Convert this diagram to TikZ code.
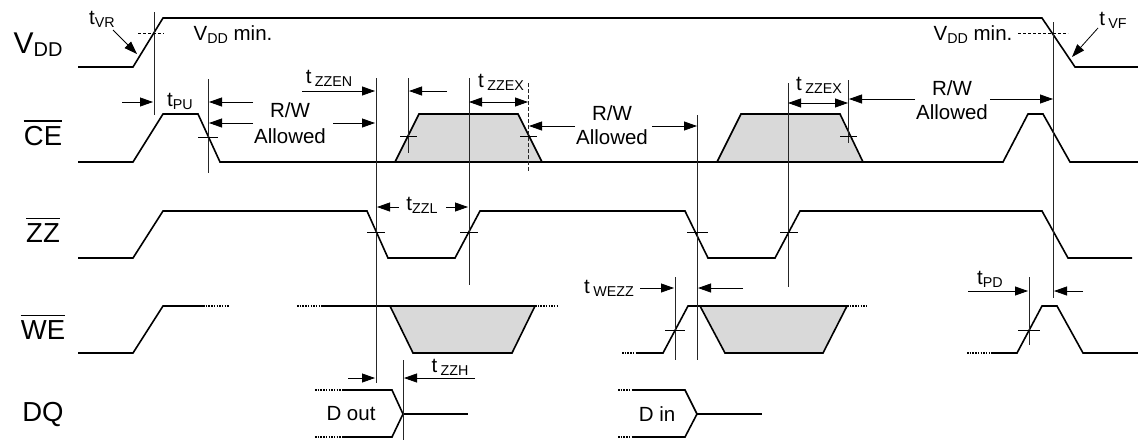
\documentclass[tikz,border=0pt]{standalone}
\usepackage{fontspec}
\setmainfont{Liberation Sans}
\usetikzlibrary{arrows.meta}
\newcommand\tsb[1]{\raisebox{-3pt}{\fontsize{14.3}{14}\selectfont #1}}
\tikzset{
  sig/.style={line width=1.6pt, line join=miter},
  dotx/.style={line width=1.6pt, dash pattern=on 1.5pt off 1.2pt},
  vline/.style={line width=0.8pt, black!85},
  tick/.style={line width=0.8pt},
  vdash/.style={line width=0.8pt, dash pattern=on 3pt off 2pt},
  arr/.style={line width=0.8pt, -{Triangle[length=13pt,width=9pt]}},
  darr/.style={line width=0.8pt, {Triangle[length=13pt,width=9pt]}-{Triangle[length=13pt,width=9pt]}},
  txt/.style={font=\fontsize{20.5}{22}\selectfont, inner sep=0pt},
  siglab/.style={font=\fontsize{27.5}{30}\selectfont, inner sep=0pt},
  ovline/.style={line width=1.4pt},
  shadebox/.style={fill=black!15, line width=1.6pt, line join=miter},
}
\begin{document}
\begin{tikzpicture}[x=1pt,y=-1pt]
\useasboundingbox (0,0) rectangle (1138,440);

% signal labels
\node[inner sep=0pt] (lvdd) at (38,45) {\fontsize{30}{34}\selectfont V\raisebox{-3pt}{\fontsize{20}{21}\selectfont DD}};
\node[siglab] (lce) at (43,136) {CE};
\node[siglab] (lzz) at (43,233) {ZZ};
\node[siglab] (lwe) at (43,330) {WE};
\node[siglab] (ldq) at (43,414) {DQ};
\draw[ovline] ([yshift=5pt]lce.north west) -- ([yshift=5pt]lce.north east);
\draw[ovline] ([yshift=5pt]lzz.north west) -- ([yshift=5pt]lzz.north east);
\draw[ovline] ([yshift=5pt]lwe.north west) -- ([yshift=5pt]lwe.north east);

% gray regions
\draw[shadebox] (395,162) -- (419,114) -- (518,114) -- (542,162) -- cycle;
\draw[shadebox] (717,162) -- (741,114) -- (840,114) -- (863,162) -- cycle;
\draw[shadebox] (390,306) -- (413,353) -- (512,353) -- (535,306) -- cycle;
\draw[shadebox] (700,306) -- (725,353) -- (823,353) -- (847,306) -- cycle;

% VDD
\draw[sig] (78,67) -- (133,67) -- (163,18) -- (1042,18) -- (1075,67) -- (1138,67);
% CE
\draw[sig] (78,162) -- (133,162) -- (163,114) -- (198,114) -- (220,162) -- (1003,162)
  -- (1028,114) -- (1043,114) -- (1070,162) -- (1138,162);
% ZZ
\draw[sig] (78,258) -- (133,258) -- (163,211) -- (367,211) -- (388,258) -- (455,258)
  -- (480,211) -- (685,211) -- (708,258) -- (775,258) -- (800,211) -- (1042,211)
  -- (1068,258) -- (1132,258);
% WE
\draw[sig] (78,353) -- (133,353) -- (163,306) -- (203,306);
\draw[dotx] (203,306) -- (230,306);
\draw[dotx] (297,306) -- (323,306);
\draw[sig] (323,306) -- (535,306);
\draw[dotx] (535,306) -- (557,306);
\draw[dotx] (622,353) -- (637,353);
\draw[sig] (637,353) -- (663,353) -- (688,306) -- (847,306);
\draw[dotx] (847,306) -- (868,306);
\draw[dotx] (967,353) -- (993,353);
\draw[sig] (993,353) -- (1017,353) -- (1042,306) -- (1057,306) -- (1083,353) -- (1138,353);
% DQ
\draw[dotx] (315,390) -- (342,390);
\draw[dotx] (315,437) -- (342,437);
\draw[sig] (342,390) -- (392,390) -- (403,414) -- (392,437) -- (342,437);
\draw[sig] (403,414) -- (468,414);
\draw[dotx] (618,390) -- (633,390);
\draw[dotx] (618,437) -- (633,437);
\draw[sig] (633,390) -- (685,390) -- (697,414) -- (685,437) -- (633,437);
\draw[sig] (697,414) -- (762,414);
\node[txt] (dout) at (351,414) {D out};
\node[txt] (din) at (657,414) {D in};

% vertical reference lines
\draw[vline] (154,12) -- (154,115);
\draw[vline] (208,79) -- (208,173);
\draw[vline] (376,78) -- (376,383);
\draw[vline] (408,78) -- (408,153);
\draw[vline] (469,78) -- (469,285);
\draw[vline, dash pattern=on 4pt off 2pt] (528,83) -- (528,172);
\draw[vline] (697,115) -- (697,360);
\draw[vline] (788,83) -- (788,287);
\draw[vline] (848,80) -- (848,143);
\draw[vline] (1053,22) -- (1053,298);
\draw[vline] (403,360) -- (403,440);
\draw[vline] (675,277) -- (675,360);
\draw[vline] (1029,277) -- (1029,345);

% ticks
\draw[vdash] (138,33) -- (164,33);
\draw[vdash] (1018,33) -- (1068,33);
\draw[tick] (198,137) -- (218,137);
\draw[tick] (400,136) -- (417,136);
\draw[tick] (520,136) -- (537,136);
\draw[tick] (840,136) -- (857,136);
\draw[tick] (367,232) -- (385,232);
\draw[tick] (460,232) -- (478,232);
\draw[tick] (687,232) -- (708,232);
\draw[tick] (780,232) -- (798,232);
\draw[tick] (665,330) -- (685,330);
\draw[tick] (1018,330) -- (1040,330);

% VDD annotations
\node[txt] (tvr) at (102,19) {t\tsb{VR}};
\draw[arr] (113,30) -- (137,54);
\node[txt] (vmin1) at (233,35) {V\tsb{DD} min.};
\node[txt] (vmin2) at (973,35) {V\tsb{DD} min.};
\node[txt] (tvf) at (1113,20) {t\,\tsb{VF}};
\draw[arr] (1098,28) -- (1072,57);

% tPU and R/W allowed (1)
\node[txt] (tpu) at (180,101) {t\tsb{PU}};
\draw[arr] (122,102) -- (153,102);
\draw[arr] (253,102) -- (209,102);
\draw[arr] (253,123) -- (209,123);
\draw[arr] (333,123) -- (375,123);
\node[txt] (rw1) at (290,110) {R/W};
\node[txt] (al1) at (290,136) {Allowed};

% tZZEN
\node[txt] (tzzen) at (329,78) {t\,\tsb{ZZEN}};
\draw[arr] (302,91) -- (375,91);
\draw[arr] (447,91) -- (409,91);

% tZZEX (1)
\node[txt] (tzzex1) at (501,82) {t\,\tsb{ZZEX}};
\draw[darr] (469,102) -- (528,102);

% R/W allowed (2)
\draw[arr] (575,126) -- (529,126);
\draw[arr] (652,126) -- (697,126);
\node[txt] (rw2) at (612,113) {R/W};
\node[txt] (al2) at (612,137) {Allowed};

% tZZEX (2)
\node[txt] (tzzex2) at (819,85) {t\,\tsb{ZZEX}};
\draw[darr] (788,103) -- (848,103);

% R/W allowed (3)
\draw[arr] (915,99) -- (849,99);
\draw[arr] (990,99) -- (1053,99);
\node[txt] (rw3) at (952,88) {R/W};
\node[txt] (al3) at (952,112) {Allowed};

% tZZL
\node[txt] (tzzl) at (422,205) {t\tsb{ZZL}};
\draw[arr] (399,207) -- (377,207);
\draw[arr] (446,207) -- (468,207);

% tWEZZ
\node[txt] (twezz) at (609,288) {t\,\tsb{WEZZ}};
\draw[arr] (640,288) -- (674,288);
\draw[arr] (743,288) -- (698,288);

% tPD
\node[txt] (tpd) at (990,279) {t\tsb{PD}};
\draw[arr] (968,291) -- (1028,291);
\draw[arr] (1083,291) -- (1054,291);

% tZZH
\node[txt] (tzzh) at (450,367) {t\,\tsb{ZZH}};
\draw[arr] (475,378) -- (404,378);
\draw[arr] (348,378) -- (375,378);
\end{tikzpicture}
\end{document}
